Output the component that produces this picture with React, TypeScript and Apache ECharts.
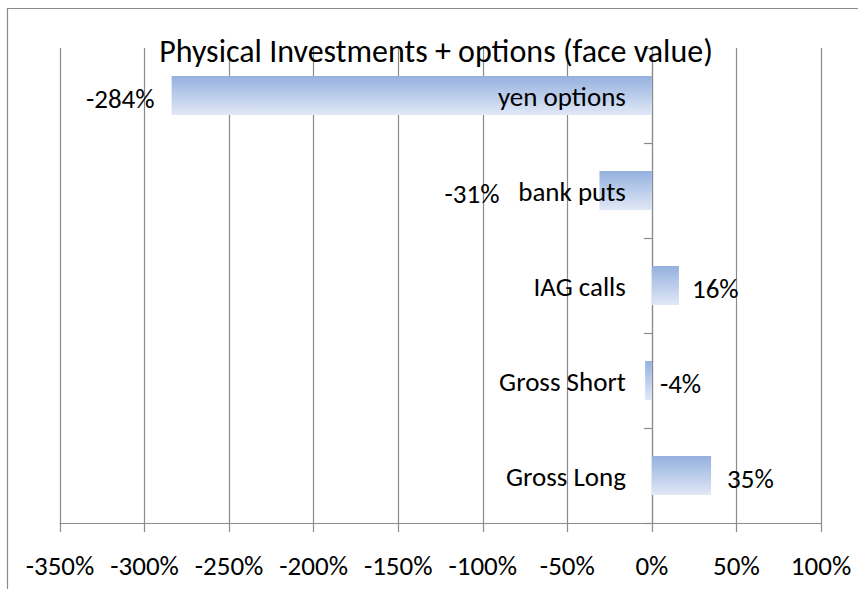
import React, { useEffect, useRef } from "react";
import * as echarts from "echarts";

const categories = ["Gross Long", "Gross Short", "IAG calls", "bank puts", "yen options"];
const values = [35, -4, 16, -31, -284];
const xTicks = { min: -350, max: 100, step: 50 };
const titleText = "Physical Investments + options (face value)";

const FONT = "Carlito, Calibri, Lato, sans-serif";
const GRAY = "#8a8a8a";
const FS = 27;

// label placement for each bar (by category), kept apart from the data
const labelPlacement: Record<string, { position: string; distance: number }> = {
  "Gross Long": { position: "right", distance: 16 },
  "Gross Short": { position: "right", distance: 8 },
  "IAG calls": { position: "right", distance: 13 },
  "bank puts": { position: "left", distance: 100 },
  "yen options": { position: "left", distance: 17 },
};

export default function App() {
  const ref = useRef<HTMLDivElement>(null);
  useEffect(() => {
    if (!ref.current) return;
    const chart = echarts.init(ref.current, undefined, { renderer: "svg" });
    const option = {
      animation: false,
      backgroundColor: "#ffffff",
      grid: {
        left: 60,
        right: 37,
        top: 48,
        bottom: 66,
        containLabel: false,
        outerBoundsMode: "none",
      },
      graphic: [
        {
          type: "rect",
          z: -10,
          shape: { x: 7.5, y: 8.5, width: 1200, height: 1200 },
          style: { fill: "none", stroke: GRAY, lineWidth: 1.2 },
          silent: true,
        },
        {
          type: "text",
          x: 436,
          y: 51,
          z: 1,
          style: {
            text: titleText,
            font: `32px ${FONT}`,
            fill: "#000000",
            textAlign: "center",
            textVerticalAlign: "middle",
          },
          silent: true,
        },
      ],
      xAxis: {
        type: "value",
        min: xTicks.min,
        max: xTicks.max,
        interval: xTicks.step,
        axisLine: { show: true, lineStyle: { color: GRAY, width: 1.2 } },
        axisTick: { show: true, length: 9, lineStyle: { color: GRAY, width: 1.2 } },
        splitLine: { show: true, lineStyle: { color: GRAY, width: 1.2 } },
        axisLabel: {
          formatter: "{value}%",
          color: "#000000",
          fontFamily: FONT,
          fontSize: FS,
          margin: 29,
        },
      },
      yAxis: {
        type: "category",
        data: categories,
        axisLine: { show: true, onZero: true, lineStyle: { color: GRAY, width: 1.2 } },
        axisTick: { show: true, length: 8, lineStyle: { color: GRAY, width: 1.2 } },
        splitLine: { show: false },
        axisLabel: { show: false },
      },
      series: [
        {
          type: "bar",
          barWidth: 39,
          data: values.map((v, i) => {
            const p = labelPlacement[categories[i]];
            return {
              value: v,
              label: {
                show: true,
                position: p.position,
                distance: p.distance,
                offset: [0, 3],
              },
            };
          }),
          itemStyle: {
            color: new echarts.graphic.LinearGradient(0, 0, 0, 1, [
              { offset: 0, color: "#95b1df" },
              { offset: 1, color: "#e0e8f6" },
            ]),
          },
          label: {
            show: true,
            formatter: (p: any) => `${p.value}%`,
            color: "#000000",
            fontFamily: FONT,
            fontSize: FS,
          },
        },
        {
          // category names placed next to the zero line
          type: "scatter",
          symbolSize: 0,
          silent: true,
          z: 3,
          itemStyle: { opacity: 1 },
          data: categories.map((c) => [0, c]),
          label: {
            show: true,
            position: "left",
            distance: 26,
            formatter: (p: any) => p.value[1],
            color: "#000000",
            opacity: 1,
            fontFamily: FONT,
            fontSize: FS,
            offset: [0, 1],
          },
        },
      ],
    };
    chart.setOption(option as any);
    return () => chart.dispose();
  }, []);
  return (
    <div
      ref={ref}
      style={{ position: "fixed", left: 0, top: 0, width: 858, height: 589 }}
    />
  );
}
